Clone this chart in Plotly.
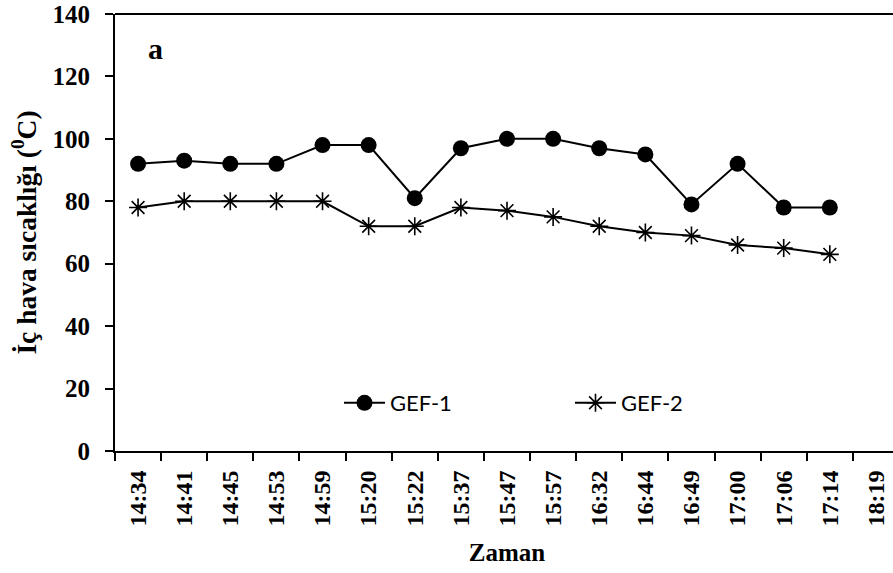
import plotly.graph_objects as go

times = ["14:34", "14:41", "14:45", "14:53", "14:59", "15:20", "15:22", "15:37",
         "15:47", "15:57", "16:32", "16:44", "16:49", "17:00", "17:06", "17:14", "18:19"]
gef1 = [92, 93, 92, 92, 98, 98, 81, 97, 100, 100, 97, 95, 79, 92, 78, 78, None]
gef2 = [78, 80, 80, 80, 80, 72, 72, 78, 77, 75, 72, 70, 69, 66, 65, 63, None]

serif = "Liberation Serif, Times New Roman, serif"
sans = "Lato, Carlito, Calibri, sans-serif"

W, H = 899, 573
L, T, R, B = 115, 14, 0, 122
PW = W - L - R
PH = H - T - B

fig = go.Figure()
fig.add_trace(go.Scatter(
    x=times, y=gef1, name="GEF-1", mode="lines+markers", showlegend=True,
    line=dict(color="black", width=2),
    marker=dict(symbol="circle", size=16, color="black"),
    legend="legend"))
fig.add_trace(go.Scatter(
    x=times, y=gef2, name="GEF-2", mode="lines+markers", showlegend=True,
    line=dict(color="black", width=2),
    marker=dict(symbol="asterisk-open", size=15, color="black",
                line=dict(color="black", width=1.6)),
    legend="legend2"))

fig.update_layout(
    width=W, height=H, showlegend=True,
    margin=dict(l=L, r=R, t=T, b=B, autoexpand=False),
    plot_bgcolor="white", paper_bgcolor="white",
    font=dict(family=serif, color="black"),
    legend=dict(x=(339 - L) / PW, y=(451 - 403) / PH, xanchor="left", yanchor="middle",
                font=dict(family=sans, size=22, color="black"),
                bgcolor="rgba(0,0,0,0)", itemwidth=41, borderwidth=0),
    legend2=dict(x=(570 - L) / PW, y=(451 - 403) / PH, xanchor="left", yanchor="middle",
                 font=dict(family=sans, size=22, color="black"),
                 bgcolor="rgba(0,0,0,0)", itemwidth=41, borderwidth=0),
    xaxis=dict(
        type="category", categoryorder="array", categoryarray=times,
        range=[-0.5, 16.5], tickson="boundaries",
        ticks="outside", ticklen=8, tickwidth=2, tickcolor="black",
        showline=True, linecolor="black", linewidth=2, mirror=False,
        showgrid=False, tickangle=-90, ticklabelstandoff=8,
        tickfont=dict(family=serif, size=24, color="black", weight="bold"),
        title=dict(text="Zaman", font=dict(family=serif, size=25, color="black", weight="bold"),
                   standoff=18),
    ),
    yaxis=dict(
        range=[0, 140], dtick=20, tick0=0,
        ticks="outside", ticklen=8, tickwidth=2, tickcolor="black",
        showline=True, linecolor="black", linewidth=2,
        showgrid=False, zeroline=False, ticklabelstandoff=10,
        tickfont=dict(family=serif, size=25, color="black", weight="bold"),
        title=dict(text="İç hava sıcaklığı (<sup>0</sup>C)",
                   font=dict(family=serif, size=27.5, color="black", weight="bold"),
                   standoff=8),
    ),
    shapes=[dict(type="line", xref="paper", yref="paper", x0=0, x1=1, y0=1, y1=1,
                 line=dict(color="black", width=2))],
    annotations=[dict(text="a", xref="paper", yref="paper", x=(155 - L) / PW,
                      y=(451 - 49) / PH, xanchor="center", yanchor="middle", showarrow=False,
                      font=dict(family=serif, size=30, color="black", weight="bold"))],
)

fig.write_html("out.html", config={"displayModeBar": False},
               post_script="document.body.style.margin='0';document.body.style.overflow='hidden';")
